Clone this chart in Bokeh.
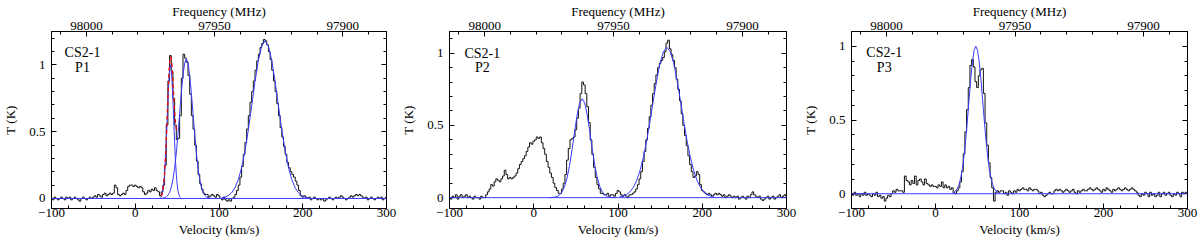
import numpy as np
from bokeh.plotting import figure
from bokeh.layouts import row
from bokeh.models import (Range1d, LinearAxis, SingleIntervalTicker,
                          CustomJSTickFormatter, Span, Label)
from bokeh.embed import file_html
from bokeh.resources import INLINE

# ---------------- constants ----------------
REST_FREQ_MHZ = 97980.95      # CS 2-1 rest frequency
C_KMS = 299792.458
V_MIN, V_MAX = -100, 300
FIT_BASELINE = 0.0

# observed channels (2 km/s), -100 ... 300 km/s
channel_velocity = list(range(-100, 301, 2))

# ---------------- observed spectra (K) ----------------
p1_T = [
    0.00, -0.01, 0.01, 0.00, -0.01, 0.00, 0.01, 0.00, -0.01, 0.01,   # -100
    0.00, 0.01, -0.01, 0.00, 0.01, 0.00, -0.01, -0.02, 0.00, 0.01,   # -80
    0.00, -0.01, 0.00, 0.01, 0.00, 0.01, 0.02, 0.01, 0.03, 0.02,     # -60
    0.01, 0.03, 0.04, 0.02, 0.03, 0.04, 0.03, 0.04, 0.10, 0.08,      # -40
    0.03, 0.02, 0.03, 0.04, 0.03, 0.06, 0.09, 0.10, 0.10, 0.09,      # -20
    0.10, 0.09, 0.08, 0.09, 0.08, 0.05, 0.03, 0.04, 0.06, 0.05,      # 0
    0.07, 0.06, 0.08, 0.06, 0.05, 0.02, 0.05, 0.10, 0.25, 0.55,      # 20
    0.88, 1.07, 0.95, 0.75, 0.55, 0.44, 0.45, 0.62, 0.90, 1.08,      # 40
    1.05, 1.02, 0.92, 0.78, 0.62, 0.52, 0.40, 0.28, 0.18, 0.11,      # 60
    0.07, 0.04, 0.03, 0.03, 0.01, 0.02, 0.03, 0.02, 0.01, 0.03,      # 80
    0.02, 0.00, -0.01, 0.01, -0.01, -0.02, -0.01, -0.02, 0.00, 0.01, # 100
    0.03, 0.06, 0.10, 0.16, 0.24, 0.33, 0.42, 0.52, 0.62, 0.72,      # 120
    0.80, 0.88, 0.96, 1.03, 1.08, 1.13, 1.16, 1.19, 1.18, 1.15,      # 140
    1.10, 1.04, 0.96, 0.88, 0.80, 0.71, 0.62, 0.53, 0.46, 0.39,      # 160
    0.33, 0.27, 0.23, 0.20, 0.18, 0.16, 0.13, 0.10, 0.06, 0.02,      # 180
    0.01, 0.02, 0.01, 0.00, 0.01, -0.01, 0.00, 0.01, 0.00, -0.01,    # 200
    0.00, -0.01, 0.00, -0.02, -0.01, 0.00, 0.01, 0.00, -0.01, 0.00,  # 220
    0.01, 0.00, 0.01, 0.02, 0.01, 0.00, -0.01, 0.00, 0.01, 0.02,     # 240
    0.01, 0.02, 0.03, 0.02, 0.03, 0.02, 0.01, 0.00, 0.01, -0.01,     # 260
    0.00, 0.01, 0.00, -0.01, 0.00, 0.01, 0.00, 0.01, -0.01, 0.00,    # 280
    0.01,                                                            # 300
]

p2_T = [
    0.00, -0.01, 0.01, 0.00, 0.02, -0.01, 0.01, 0.02, 0.00, 0.01,    # -100
    0.02, 0.00, 0.01, 0.00, -0.01, 0.01, 0.00, 0.00, -0.01, 0.01,    # -80
    0.00, 0.00, 0.02, 0.04, 0.06, 0.09, 0.08, 0.11, 0.13, 0.12,      # -60
    0.11, 0.13, 0.15, 0.19, 0.16, 0.13, 0.14, 0.13, 0.14, 0.15,      # -40
    0.17, 0.20, 0.23, 0.25, 0.27, 0.29, 0.32, 0.35, 0.38, 0.37,      # -20
    0.39, 0.40, 0.42, 0.41, 0.42, 0.38, 0.34, 0.30, 0.25, 0.21,      # 0
    0.17, 0.14, 0.10, 0.07, 0.05, 0.03, 0.03, 0.06, 0.10, 0.16,      # 20
    0.26, 0.34, 0.40, 0.41, 0.42, 0.47, 0.55, 0.62, 0.72, 0.80,      # 40
    0.78, 0.72, 0.63, 0.52, 0.40, 0.30, 0.21, 0.14, 0.09, 0.06,      # 60
    0.03, 0.03, 0.02, 0.02, 0.03, 0.01, 0.02, 0.02, 0.01, 0.03,      # 80
    0.05, 0.04, 0.02, 0.01, 0.02, 0.01, 0.00, 0.02, 0.02, 0.03,      # 100
    0.04, 0.06, 0.09, 0.13, 0.18, 0.25, 0.32, 0.40, 0.48, 0.56,      # 120
    0.64, 0.72, 0.79, 0.85, 0.90, 0.93, 0.95, 0.97, 1.01, 1.07,      # 140
    1.09, 1.03, 0.99, 0.95, 0.90, 0.82, 0.75, 0.67, 0.58, 0.50,      # 160
    0.43, 0.36, 0.29, 0.23, 0.18, 0.14, 0.15, 0.18, 0.16, 0.09,      # 180
    0.05, 0.04, 0.03, 0.02, 0.03, 0.02, 0.01, 0.02, 0.03, 0.02,      # 200
    0.03, 0.02, 0.01, 0.02, 0.00, 0.01, 0.02, 0.01, 0.00, 0.01,      # 220
    0.00, 0.01, -0.01, 0.00, 0.01, 0.00, -0.01, 0.01, 0.00, 0.02,    # 240
    0.04, 0.02, 0.01, 0.00, 0.01, -0.01, -0.02, -0.01, 0.00, 0.01,   # 260
    -0.01, 0.00, 0.01, -0.01, 0.00, 0.01, 0.02, 0.00, 0.01, 0.02,    # 280
    0.01,                                                            # 300
]

p3_T = [
    0.00, -0.01, 0.01, -0.01, 0.00, -0.02, 0.00, -0.01, 0.01, -0.01,    # -100
    0.00, -0.01, -0.02, 0.00, -0.01, 0.01, -0.02, -0.01, -0.03, -0.02,  # -80
    -0.05, -0.03, -0.01, -0.02, 0.00, 0.02, 0.01, 0.03, 0.02, 0.02,     # -60
    0.02, 0.01, 0.12, 0.09, 0.08, 0.06, 0.09, 0.07, 0.12, 0.06,         # -40
    0.09, 0.10, 0.08, 0.06, 0.10, 0.07, 0.06, 0.05, 0.06, 0.05,         # -20
    0.05, 0.04, 0.06, 0.05, 0.08, 0.04, 0.06, 0.04, 0.05, 0.03,         # 0
    0.04, 0.01, 0.00, 0.02, 0.04, 0.08, 0.15, 0.27, 0.42, 0.57,         # 20
    0.72, 0.87, 0.91, 0.86, 0.76, 0.72, 0.80, 0.84, 0.85, 0.68,         # 40
    0.48, 0.33, 0.21, 0.11, 0.04, -0.05, 0.01, 0.02, 0.01, 0.02,        # 60
    0.02, 0.00, 0.01, -0.01, 0.02, 0.01, 0.00, 0.02, 0.01, 0.03,        # 80
    0.02, 0.03, 0.04, 0.03, 0.03, 0.02, 0.04, 0.03, 0.02, 0.03,         # 100
    0.03, 0.02, 0.00, 0.01, -0.01, -0.02, -0.01, 0.00, 0.01, 0.00,      # 120
    0.00, 0.02, 0.03, 0.02, 0.03, 0.02, 0.01, 0.02, 0.03, 0.02,         # 140
    0.01, 0.02, 0.03, 0.01, 0.00, 0.02, 0.01, 0.02, 0.03, 0.02,         # 160
    0.02, 0.03, 0.04, 0.03, 0.02, 0.03, 0.04, 0.03, 0.02, 0.01,         # 180
    0.03, 0.02, 0.04, 0.03, 0.02, 0.01, 0.03, 0.02, 0.03, 0.04,         # 200
    0.03, 0.02, 0.03, 0.04, 0.03, 0.02, 0.03, 0.04, 0.03, 0.02,         # 220
    0.01, -0.01, -0.02, 0.00, -0.01, 0.01, 0.00, -0.02, 0.01, -0.01,    # 240
    0.00, -0.02, -0.01, 0.01, -0.02, 0.00, 0.01, -0.01, 0.00, 0.01,     # 260
    -0.01, -0.02, 0.00, -0.01, 0.01, 0.00, -0.02, 0.01, 0.00, 0.01,     # 280
    0.00,                                                               # 300
]

# ---------------- fitted components (blue) ----------------
p1_fitA_v = list(range(30, 55))
p1_fitA_T = [0.0069, 0.0152, 0.0314, 0.0606, 0.109, 0.184, 0.288, 0.421, 0.575,
             0.732, 0.871, 0.966, 1.0, 0.966, 0.871, 0.732, 0.575, 0.421, 0.288,
             0.184, 0.109, 0.0606, 0.0314, 0.0152, 0.0069]
p1_fitB_v = list(range(31, 92, 2))
p1_fitB_T = [0.001, 0.0022, 0.0053, 0.0116, 0.0238, 0.0459, 0.0832, 0.141, 0.226,
             0.339, 0.478, 0.634, 0.789, 0.922, 1.013, 1.045, 1.013, 0.922, 0.789,
             0.634, 0.478, 0.339, 0.226, 0.141, 0.0832, 0.0459, 0.0238, 0.0116,
             0.0053, 0.0022, 0.001]
p1_fitC_v = list(range(103, 208, 4))
p1_fitC_T = [0.0043, 0.0098, 0.0210, 0.0422, 0.0796, 0.140, 0.231, 0.356, 0.513,
             0.693, 0.874, 1.033, 1.141, 1.18, 1.141, 1.033, 0.874, 0.693, 0.513,
             0.356, 0.231, 0.140, 0.0796, 0.0422, 0.0210, 0.0098, 0.0043]
# combined fit over the blended narrow peak (red, dashed)
p1_sum_v = list(range(31, 51))
p1_sum_T = [0.016, 0.033, 0.063, 0.113, 0.189, 0.296, 0.433, 0.592, 0.756, 0.904,
            1.012, 1.062, 1.049, 0.980, 0.873, 0.755, 0.647, 0.567, 0.523, 0.515]

p2_fitD_v = list(np.arange(18.5, 97, 3))
p2_fitD_T = [0.0003, 0.0010, 0.0030, 0.0076, 0.0179, 0.0385, 0.0755, 0.136, 0.222,
             0.333, 0.457, 0.572, 0.655, 0.685, 0.655, 0.572, 0.457, 0.333, 0.222,
             0.136, 0.0755, 0.0385, 0.0179, 0.0076, 0.0030, 0.0010, 0.0003]
p2_fitE_v = list(range(102, 215, 4))
p2_fitE_T = [0.0052, 0.0108, 0.0212, 0.0395, 0.0696, 0.116, 0.184, 0.276, 0.393,
             0.529, 0.675, 0.815, 0.933, 1.012, 1.04, 1.012, 0.933, 0.815, 0.675,
             0.529, 0.393, 0.276, 0.184, 0.116, 0.0696, 0.0395, 0.0212, 0.0108, 0.0052]

p3_fitF_v = list(range(20, 77, 2))
p3_fitF_T = [0.0044, 0.0093, 0.0186, 0.0351, 0.0628, 0.1062, 0.1701, 0.2576, 0.3691,
             0.5005, 0.6422, 0.7795, 0.8952, 0.9727, 1.0, 0.9727, 0.8952, 0.7795,
             0.6422, 0.5005, 0.3691, 0.2576, 0.1701, 0.1062, 0.0628, 0.0351, 0.0186,
             0.0093, 0.0044]

for a, b in [(channel_velocity, p1_T), (channel_velocity, p2_T), (channel_velocity, p3_T),
             (p1_fitA_v, p1_fitA_T), (p1_fitB_v, p1_fitB_T), (p1_fitC_v, p1_fitC_T),
             (p1_sum_v, p1_sum_T), (p2_fitD_v, p2_fitD_T), (p2_fitE_v, p2_fitE_T),
             (p3_fitF_v, p3_fitF_T)]:
    assert len(a) == len(b), (len(a), len(b))

# ---------------- styling ----------------
FONT = "Liberation Serif"
FS = "13px"
BLUE = "#3a3aff"
FRAME_H = 177
B_TOP, B_BOTTOM = 31, 32


def freq_of(v):
    return REST_FREQ_MHZ * (1.0 - v / C_KMS)


def style_axis(ax):
    ax.major_tick_in = 5
    ax.major_tick_out = 0
    ax.minor_tick_in = 3
    ax.minor_tick_out = 0
    ax.axis_line_color = "black"
    ax.major_tick_line_color = "black"
    ax.minor_tick_line_color = "black"
    ax.major_label_text_font = FONT
    ax.major_label_text_font_size = FS
    ax.major_label_text_color = "black"
    ax.axis_label_text_font = FONT
    ax.axis_label_text_font_size = FS
    ax.axis_label_text_font_style = "normal"
    ax.axis_label_text_color = "black"


def text_label(p, x, y, txt, size=FS):
    p.add_layout(Label(x=x, y=y, text=txt, text_font=FONT, text_font_size=size,
                       text_align="center", text_baseline="middle",
                       text_color="black"))


def make_panel(T_obs, fits, y_lo, y_hi, name, name_pos, frame_w, b_left, b_right,
               red=None):
    p = figure(width=b_left + frame_w + b_right, height=B_TOP + FRAME_H + B_BOTTOM,
               output_backend="svg", toolbar_location=None,
               x_range=Range1d(V_MIN, V_MAX), y_range=Range1d(y_lo, y_hi),
               min_border_left=b_left, min_border_right=b_right,
               min_border_top=B_TOP, min_border_bottom=B_BOTTOM,
               x_axis_label="Velocity (km/s)", y_axis_label="T (K)")
    p.grid.visible = False
    p.outline_line_color = "black"
    p.background_fill_color = "white"
    p.border_fill_color = "white"

    p.xaxis.ticker = SingleIntervalTicker(interval=100, num_minor_ticks=5)
    p.yaxis.ticker = SingleIntervalTicker(interval=0.5, num_minor_ticks=5)
    p.xaxis.formatter = CustomJSTickFormatter(
        code="return tick < 0 ? '\u2212' + Math.abs(tick) : String(tick);")
    p.yaxis.formatter = CustomJSTickFormatter(
        code="return String(Math.round(tick * 10) / 10);")

    p.extra_x_ranges = {"freq": Range1d(freq_of(V_MIN), freq_of(V_MAX))}
    top = LinearAxis(x_range_name="freq", axis_label="Frequency (MHz)",
                     ticker=SingleIntervalTicker(interval=50, num_minor_ticks=5),
                     formatter=CustomJSTickFormatter(code="return String(Math.round(tick));"))
    p.add_layout(top, "above")
    right = LinearAxis(ticker=SingleIntervalTicker(interval=0.5, num_minor_ticks=5),
                       formatter=CustomJSTickFormatter(code="return '';"))
    p.add_layout(right, "right")
    for ax in p.axis:
        style_axis(ax)
    bottom = p.below[0]
    left = p.left[0]
    bottom.major_label_standoff = 0
    bottom.axis_label_standoff = 2
    top.major_label_standoff = 2
    top.axis_label_standoff = 0
    left.major_label_standoff = 6
    left.axis_label_standoff = 8
    right.major_label_standoff = 0

    p.add_layout(Span(location=FIT_BASELINE, dimension="width",
                      line_color=BLUE, line_width=1))
    p.step(channel_velocity, T_obs, mode="center", line_color="#111111", line_width=1)
    for fv, fT in fits:
        p.line(fv, fT, line_color=BLUE, line_width=1)
    if red is not None:
        p.line(red[0], red[1], line_color="#e01010", line_width=1.4, line_dash="4 3")

    text_label(p, name_pos[0], name_pos[1], "CS2-1", size="14px")
    text_label(p, name_pos[0], name_pos[2], name, size="14px")
    return p


p1 = make_panel(p1_T, [(p1_fitA_v, p1_fitA_T), (p1_fitB_v, p1_fitB_T),
                       (p1_fitC_v, p1_fitC_T)],
                -0.075, 1.25, "P1", (-63, 1.09, 0.98), 340, 46, 12,
                red=(p1_sum_v, p1_sum_T))
p2 = make_panel(p2_T, [(p2_fitD_v, p2_fitD_T), (p2_fitE_v, p2_fitE_T)],
                -0.075, 1.15, "P2", (-61, 1.0, 0.90), 340, 48, 14)
p3 = make_panel(p3_T, [(p3_fitF_v, p3_fitF_T)],
                -0.10, 1.10, "P3", (-61, 0.955, 0.858), 339, 48, 12)

layout = row(p1, p2, p3)
open("out.html", "w").write(file_html(layout, INLINE))
